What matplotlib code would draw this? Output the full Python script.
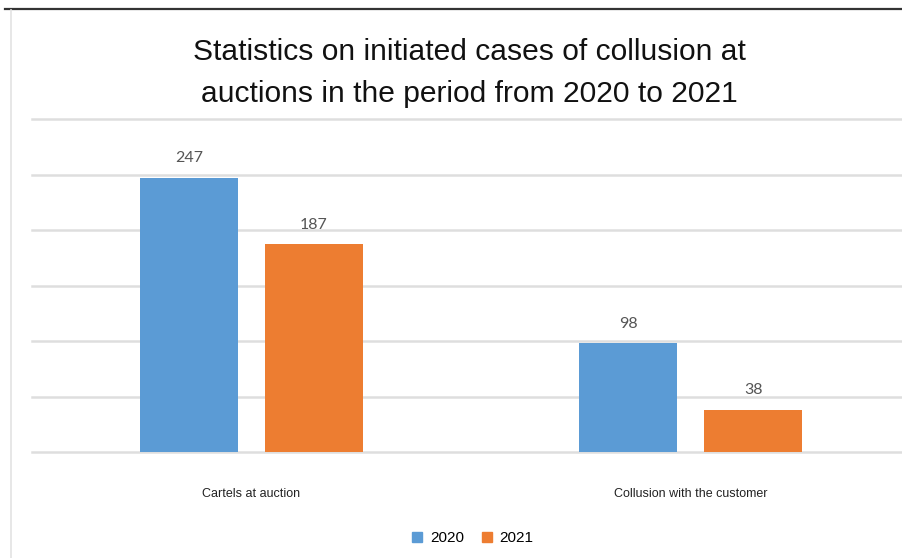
import matplotlib
matplotlib.use("Agg")
import matplotlib.pyplot as plt
import numpy as np
from matplotlib.lines import Line2D
from matplotlib.patches import Patch

categories = ["Cartels at auction", "Collusion with the customer"]
series_names = ["2020", "2021"]
values_2020 = [247, 98]
values_2021 = [187, 38]
title = "Statistics on initiated cases of collusion at\nauctions in the period from 2020 to 2021"

BLUE = "#5B9BD5"
ORANGE = "#ED7D31"
GRID = "#DEDEDE"

W, H = 903, 558
fig = plt.figure(figsize=(W / 100, H / 100), dpi=100)
fig.patch.set_facecolor("white")

ax_left = 31.75 / W
ax_bottom = (H - 452) / H
ax_top = (H - 119) / H
ax = fig.add_axes([ax_left, ax_bottom, 1.0 - ax_left, ax_top - ax_bottom])

x = np.arange(len(categories))
bw = 98 / 439.5
off = 125 / 2 / 439.5
b1 = ax.bar(x - off, values_2020, bw, color=BLUE, label=series_names[0], zorder=3)
b2 = ax.bar(x + off, values_2021, bw, color=ORANGE, label=series_names[1], zorder=3)

for bars in (b1, b2):
    ax.bar_label(bars, padding=9, fontsize=11.5, color="#555555", family=["Lato", "DejaVu Sans"])

ax.set_xlim(-0.5, (W - 31.75) / 439.5 - 0.5)
ax.set_ylim(0, 300)
ax.set_yticks(np.arange(0, 301, 50))
ax.yaxis.grid(True, color=GRID, linewidth=1.8, zorder=0)
for gl in ax.get_ygridlines():
    gl.set_clip_on(False)
ax.set_yticklabels([])
ax.tick_params(axis="y", length=0)
ax.set_xticks(x)
ax.set_xticklabels(categories, fontsize=9, color="#222222", family=["Liberation Sans", "DejaVu Sans"])
ax.tick_params(axis="x", length=0, pad=26)
for s in ax.spines.values():
    s.set_visible(False)

fig.text(469 / W, 1 - 73 / H, title, ha="center", va="center", fontsize=21.6,
         color="#111111", family=["Liberation Sans", "DejaVu Sans"], linespacing=1.6)

handles = [Patch(color=BLUE), Patch(color=ORANGE)]
fig.legend(handles, series_names, loc="center", bbox_to_anchor=(473 / W, 1 - 538 / H),
           ncol=2, frameon=False, handlelength=0.65, handleheight=0.65,
           handletextpad=0.5, columnspacing=1.2,
           prop={"family": ["Liberation Sans", "DejaVu Sans"], "size": 11})

# frame decorations
fig.add_artist(Line2D([5 / W, 1.0], [1 - 8.5 / H, 1 - 8.5 / H], color="#333333", linewidth=1.6))
fig.add_artist(Line2D([11 / W, 11 / W], [0, 1 - 10 / H], color="#E3E3E3", linewidth=1.2))

fig.savefig("out.png", dpi=100, facecolor="white")
